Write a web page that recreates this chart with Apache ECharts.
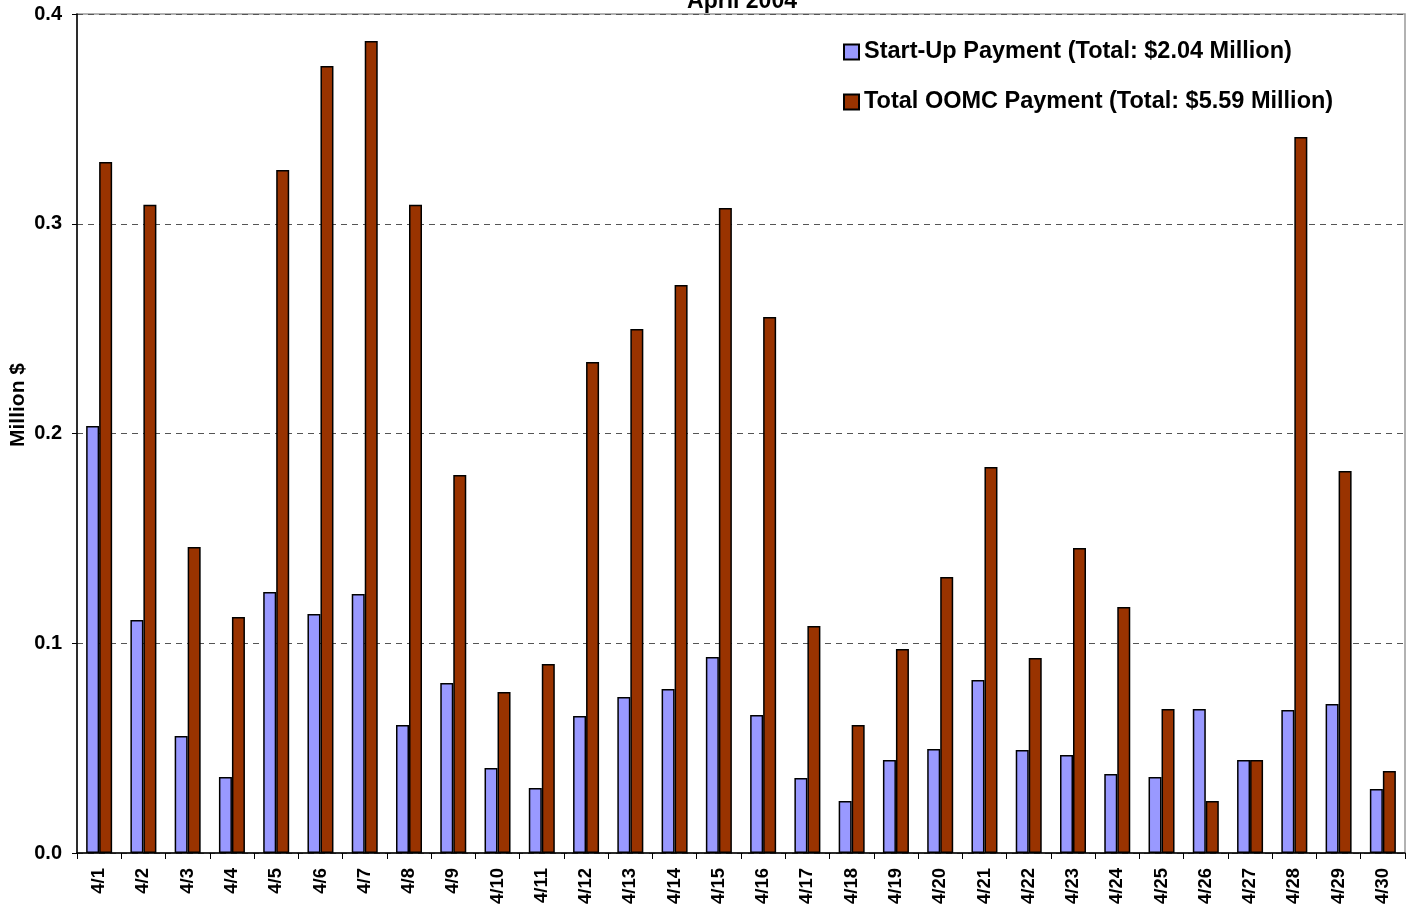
<!DOCTYPE html>
<html>
<head>
<meta charset="utf-8">
<script src="https://cdn.jsdelivr.net/npm/echarts@6/dist/echarts.min.js"></script>
<style>
  html, body { margin: 0; padding: 0; background: #fff; }
  #chart { width: 1413px; height: 909px; }
</style>
</head>
<body>
<div id="chart"></div>
<script>
var days = [];
for (var d = 1; d <= 30; d++) days.push('4/' + d);

var startUp = [0.2036, 0.1111, 0.0558, 0.0362, 0.1244, 0.1139, 0.1235, 0.0610, 0.0810, 0.0405,
  0.0310, 0.0653, 0.0744, 0.0782, 0.0934, 0.0658, 0.0358, 0.0248, 0.0443, 0.0496,
  0.0825, 0.0491, 0.0467, 0.0377, 0.0362, 0.0687, 0.0443, 0.0682, 0.0710, 0.0305];

var totalOomc = [0.3294, 0.3090, 0.1459, 0.1125, 0.3256, 0.3752, 0.3871, 0.3090, 0.1802, 0.0768,
  0.0901, 0.2341, 0.2498, 0.2708, 0.3075, 0.2555, 0.1082, 0.0610, 0.0973, 0.1316,
  0.1840, 0.0930, 0.1454, 0.1173, 0.0687, 0.0248, 0.0443, 0.3414, 0.1821, 0.0391];

var yTicks = [0, 0.1, 0.2, 0.3, 0.4];

var font = 'Arial, "Liberation Sans", sans-serif';
var myChart = echarts.init(document.getElementById('chart'));
var option = {
  animation: false,
  title: {
    text: 'April 2004',
    left: 737,
    top: -15,
    textAlign: 'center',
    textStyle: { fontFamily: font, fontWeight: 'bold', fontSize: 23, color: '#000' }
  },
  legend: {
    orient: 'vertical',
    left: 838,
    top: 35,
    icon: 'rect',
    itemWidth: 15,
    itemHeight: 15,
    itemGap: 26,
    textStyle: { fontFamily: font, fontWeight: 'bold', fontSize: 23.5, color: '#000', padding: [0, 0, 0, 0] },
    data: ['Start-Up Payment (Total: $2.04 Million)', 'Total OOMC Payment (Total: $5.59 Million)']
  },
  graphic: [{
    type: 'text',
    x: 18,
    y: 405,
    rotation: Math.PI / 2,
    style: {
      text: 'Million $',
      fontFamily: font, fontWeight: 'bold', fontSize: 21, fill: '#000',
      align: 'center', verticalAlign: 'middle'
    }
  }],
  grid: {
    left: 77, right: 8, top: 14, bottom: 56,
    show: true,
    borderColor: '#999',
    borderWidth: 1.5
  },
  xAxis: {
    type: 'category',
    data: days,
    boundaryGap: true,
    axisLine: { lineStyle: { color: '#000', width: 1.5 } },
    axisTick: { show: true, inside: false, length: 6, lineStyle: { color: '#000' } },
    axisLabel: {
      rotate: 90,
      margin: 15,
      fontFamily: font, fontWeight: 'bold', fontSize: 18.5, color: '#000'
    }
  },
  yAxis: {
    type: 'value',
    min: yTicks[0],
    max: yTicks[yTicks.length - 1],
    interval: 0.1,
    axisLine: { show: true, lineStyle: { color: '#000', width: 1.5 } },
    axisTick: { show: true, length: 5, lineStyle: { color: '#000' } },
    axisLabel: {
      margin: 15,
      fontFamily: font, fontWeight: 'bold', fontSize: 20, color: '#000',
      formatter: function (v) { return v.toFixed(1); }
    },
    splitLine: { show: true, lineStyle: { color: '#555', type: [6, 5], width: 1 } }
  },
  series: [
    {
      name: 'Start-Up Payment (Total: $2.04 Million)',
      type: 'bar',
      data: startUp,
      barWidth: 13,
      barGap: '0%',
      itemStyle: { color: '#9999FF', borderColor: '#000', borderWidth: 1.5 }
    },
    {
      name: 'Total OOMC Payment (Total: $5.59 Million)',
      type: 'bar',
      data: totalOomc,
      barWidth: 13,
      barGap: '0%',
      itemStyle: { color: '#993300', borderColor: '#000', borderWidth: 1.5 }
    }
  ]
};
myChart.setOption(option);
</script>
</body>
</html>
